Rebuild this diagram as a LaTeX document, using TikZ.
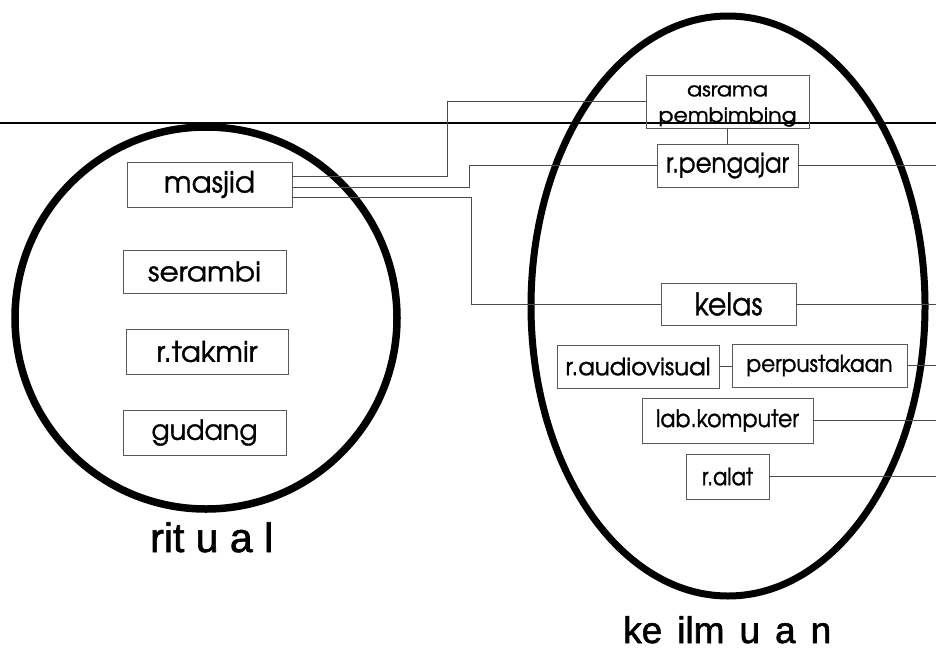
\documentclass[tikz,border=0pt]{standalone}
\usepackage{fontspec}
\setmainfont[FakeBold=1.2]{texgyreadventor-regular.otf}
\newfontfamily\lblfont[FakeBold=1.6]{Liberation Sans}
\usepackage{graphicx}
\newcommand\fitwh[3]{\resizebox{#1}{#2}{#3}}
\begin{document}
\begin{tikzpicture}[x=1pt,y=-1pt,
  box/.style={draw=black!65,line width=0.7pt,inner sep=0pt,anchor=center},
  conn/.style={draw=black!70,line width=0.7pt},
  ring/.style={line width=7.5pt,draw=black},
  lbl/.style={font=\lblfont,inner sep=0pt,anchor=base west}]
\useasboundingbox (0,0) rectangle (936,654);
\fill[white] (0,0) rectangle (936,654);
% top rule
\coordinate (hl0) at (0,123);
\coordinate (hl1) at (936,123);
\draw[line width=1.1pt] (hl0) -- (hl1);
% rings
\draw[ring] (206,318) circle [radius=191];
\draw[ring,line width=7pt] (728,306) ellipse [x radius=197, y radius=290];
% left boxes
\node[box,minimum width=165pt,minimum height=45pt] (masjid) at (209.5,184.5) {\fitwh{91pt}{21.7pt}{masjid}};
\node[box,minimum width=163pt,minimum height=43pt] (serambi) at (204.5,271.5) {\fitwh{113pt}{20pt}{serambi}};
\node[box,minimum width=162pt,minimum height=45pt] (takmir) at (207,351.5) {\fitwh{101pt}{21pt}{r.takmir}};
\node[box,minimum width=163pt,minimum height=45pt] (gudang) at (204.5,432.5) {\fitwh{106pt}{20.5pt}{gudang}};
% right boxes
\node[box,minimum width=163pt,minimum height=53pt,align=center,font=\fontsize{10pt}{26pt}\selectfont] (asrama) at (727.5,101.5) {\rule{0pt}{20pt}\fitwh{81pt}{11pt}{asrama}\\\fitwh{138pt}{15pt}{pembimbing}};
\node[box,minimum width=141pt,minimum height=43pt] (pengajar) at (727.5,165.5) {\fitwh{123pt}{20pt}{r.pengajar}};
\node[box,minimum width=135pt,minimum height=42pt] (kelas) at (728.5,304) {\fitwh{68pt}{23pt}{kelas}};
\node[box,minimum width=162pt,minimum height=43pt] (audio) at (638,366.5) {\fitwh{145pt}{17.7pt}{r.audiovisual}};
\node[box,minimum width=175pt,minimum height=43pt] (pustaka) at (819.5,365.5) {\fitwh{146pt}{17pt}{perpustakaan}};
\node[box,minimum width=171pt,minimum height=45pt] (lab) at (727.5,420.5) {\fitwh{143pt}{17.7pt}{lab.komputer}};
\node[box,minimum width=83pt,minimum height=45pt] (alat) at (727.5,476.5) {\fitwh{51pt}{17.7pt}{r.alat}};
% free ends at right edge
\coordinate (e1) at (936,165.5);
\coordinate (e2) at (936,303);
\coordinate (e3) at (936,366);
\coordinate (e4) at (936,421);
\coordinate (e5) at (936,479);
% connectors
\draw[conn] ([yshift=8.5pt]masjid.east) -- ++(155,0) |- (asrama.west);
\draw[conn] ([yshift=-2.5pt]masjid.east) -- ++(177,0) |- (pengajar.west);
\draw[conn] ([yshift=-12.5pt]masjid.east) -- ++(179,0) |- (kelas.west);
\draw[conn] (asrama.south) -- (pengajar.north);
\draw[conn] (audio.east) -- (audio.east -| pustaka.west);
\draw[conn] (pengajar.east) -- (e1);
\draw[conn] (kelas.east) -- (kelas.east -| e2);
\draw[conn] (pustaka.east) -- (pustaka.east -| e3);
\draw[conn] (lab.east) -- (lab.east -| e4);
\draw[conn] (alat.east) -- (alat.east -| e5);
% labels
\node[lbl,font=\lblfont\fontsize{41pt}{44pt}\selectfont] (ritual) at (150,552) {rit u a l};
\node[lbl,font=\lblfont\fontsize{37pt}{40pt}\selectfont] (keilmuan) at (623,643) {\spaceskip=15pt\relax ke ilm u a n};
\end{tikzpicture}
\end{document}
